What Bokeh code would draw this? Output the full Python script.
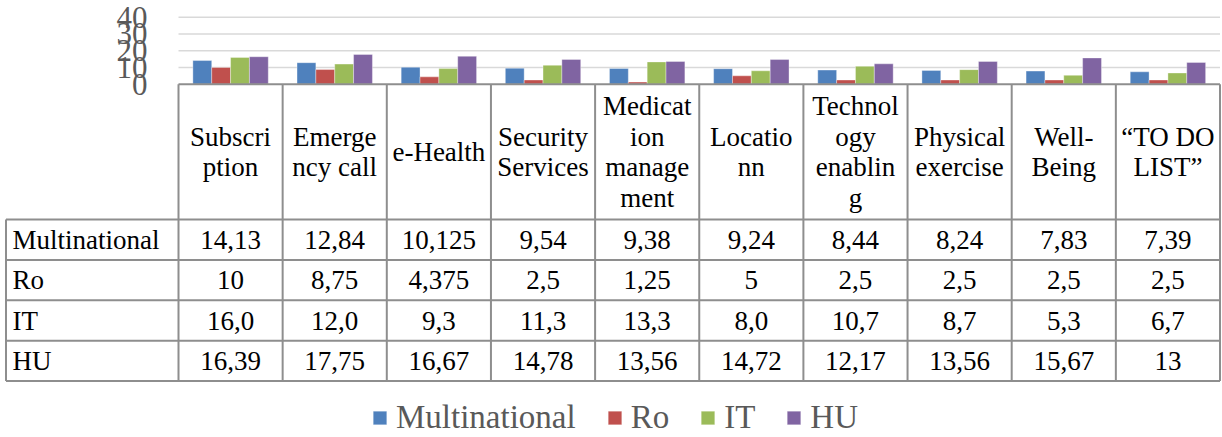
from bokeh.plotting import figure
from bokeh.models import Range1d, ColumnDataSource, Legend, LegendItem
from bokeh.transform import dodge
from bokeh.core.properties import value
from bokeh.embed import file_html
from bokeh.resources import INLINE

# ---------------- data ----------------
categories = ["Subscription", "Emergency call", "e-Health", "Security Services",
              "Medication management", "Locationn", "Technology enabling",
              "Physical exercise", "Well-Being", "\u201cTO DO LIST\u201d"]
header_lines = [["Subscri", "ption"], ["Emerge", "ncy call"], ["e-Health"],
                ["Security", "Services"], ["Medicat", "ion", "manage", "ment"],
                ["Locatio", "nn"], ["Technol", "ogy", "enablin", "g"],
                ["Physical", "exercise"], ["Well-", "Being"],
                ["\u201cTO DO", "LIST\u201d"]]
series_names = ["Multinational", "Ro", "IT", "HU"]
multinational = [14.13, 12.84, 10.125, 9.54, 9.38, 9.24, 8.44, 8.24, 7.83, 7.39]
ro = [10, 8.75, 4.375, 2.5, 1.25, 5, 2.5, 2.5, 2.5, 2.5]
it = [16.0, 12.0, 9.3, 11.3, 13.3, 8.0, 10.7, 8.7, 5.3, 6.7]
hu = [16.39, 17.75, 16.67, 14.78, 13.56, 14.72, 12.17, 13.56, 15.67, 13]
series_formats = ["g", "g", ".1f", "g"]
y_ticks = [0, 10, 20, 30, 40]
y_tick_labels = ["0", "10", "20", "30", "40"]
colors = ["#4F81BD", "#C0504D", "#9BBB59", "#8064A2"]

# ---------------- layout (figure pixels) ----------------
W, H = 1222, 437
col0 = 178.0          # left edge of category columns
col_w = 104.15        # width of one category column
y_zero = 83.7         # pixel row of value 0
px_per_unit = 1.675   # pixels per value unit
header_bottom = 219.0
row_h = 40.4
tbl_left = 5.5
line_c = "#8e8e8e"
FONT_NAME = "Liberation Serif"
FONT = value(FONT_NAME)

n = len(categories)
p = figure(width=W, height=H, output_backend="svg", toolbar_location=None,
           x_axis_location=None, y_axis_location=None, min_border=0,
           x_range=Range1d(-col0 / col_w, (W - col0) / col_w),
           y_range=Range1d(-(H - y_zero) / px_per_unit, y_zero / px_per_unit))
p.extra_x_ranges = {"px": Range1d(0, W)}
p.extra_y_ranges = {"px": Range1d(H, 0)}
p.outline_line_color = None
p.xgrid.visible = False
p.ygrid.visible = False
p.background_fill_color = "white"
p.border_fill_color = "white"

# gridlines
grid_vals = [t for t in y_ticks if t > 0]
p.segment(x0=[0] * len(grid_vals), x1=[n] * len(grid_vals), y0=grid_vals, y1=grid_vals,
          line_color="#d9d9d9", line_width=1.5)

# y tick labels
p.text(x=[147.0] * len(y_ticks), y=y_ticks, text=y_tick_labels, x_range_name="px",
       text_align="right", text_baseline="middle", text_font=FONT,
       text_font_size="31px", text_color="#595959")

# bars
src = ColumnDataSource(dict(x=[i + 0.5 for i in range(n)], Multinational=multinational,
                            Ro=ro, IT=it, HU=hu))
bw = 0.181
offsets = [-1.5 * bw, -0.5 * bw, 0.5 * bw, 1.5 * bw]
renderers = []
for k, name in enumerate(series_names):
    r = p.vbar(x=dodge("x", offsets[k], range=p.x_range), top=name, bottom=0, width=bw,
               source=src, fill_color=colors[k], line_color="white", line_alpha=0.35,
               line_width=1)
    renderers.append(r)

# table lines
n_rows = len(series_names)
row_lines = [header_bottom + j * row_h for j in range(n_rows + 1)]
p.segment(x0=[0], x1=[n], y0=[0], y1=[0], line_color=line_c, line_width=2)
p.segment(x0=[tbl_left] * len(row_lines), x1=[col0 + n * col_w] * len(row_lines),
          y0=row_lines, y1=row_lines, x_range_name="px", y_range_name="px",
          line_color=line_c, line_width=2)
p.segment(x0=list(range(n + 1)), x1=list(range(n + 1)), y0=[y_zero] * (n + 1),
          y1=[row_lines[-1]] * (n + 1), y_range_name="px", line_color=line_c, line_width=2)
p.segment(x0=[tbl_left], x1=[tbl_left], y0=[row_lines[0]], y1=[row_lines[-1]],
          x_range_name="px", y_range_name="px", line_color=line_c, line_width=2)

# header texts
hx, hy, ht = [], [], []
hc = (y_zero + header_bottom) / 2
for i, lines in enumerate(header_lines):
    m = len(lines)
    for k, s in enumerate(lines):
        hx.append(i + 0.5)
        hy.append(hc + (k - (m - 1) / 2) * 30.5)
        ht.append(s)
p.text(x=hx, y=hy, text=ht, y_range_name="px", text_align="center",
       text_baseline="middle", text_font=FONT, text_font_size="27px", text_color="black")

# row labels and cells
all_series = [multinational, ro, it, hu]
rx, ry, rt = [], [], []
cx, cy, ct = [], [], []
for j, name in enumerate(series_names):
    yc = row_lines[j] + row_h / 2
    rx.append(12.0)
    ry.append(yc)
    rt.append(name)
    for i, v in enumerate(all_series[j]):
        cx.append(i + 0.5)
        cy.append(yc)
        ct.append(format(v, series_formats[j]).replace(".", ","))
p.text(x=rx, y=ry, text=rt, x_range_name="px", y_range_name="px", text_align="left",
       text_baseline="middle", text_font=FONT, text_font_size="27px", text_color="black")
p.text(x=cx, y=cy, text=ct, y_range_name="px", text_align="center",
       text_baseline="middle", text_font=FONT, text_font_size="27px", text_color="black")

# legend
legend = Legend(items=[LegendItem(label=nm, renderers=[r]) for nm, r in zip(series_names, renderers)],
                orientation="horizontal", location=(371, 1),
                label_text_font=FONT_NAME, label_text_font_size="33px",
                label_text_color="#595959", glyph_width=17, glyph_height=17,
                label_standoff=8, spacing=30, padding=0, margin=0,
                border_line_alpha=0, background_fill_alpha=0)
p.add_layout(legend)

open("out.html", "w").write(file_html(p, INLINE))
